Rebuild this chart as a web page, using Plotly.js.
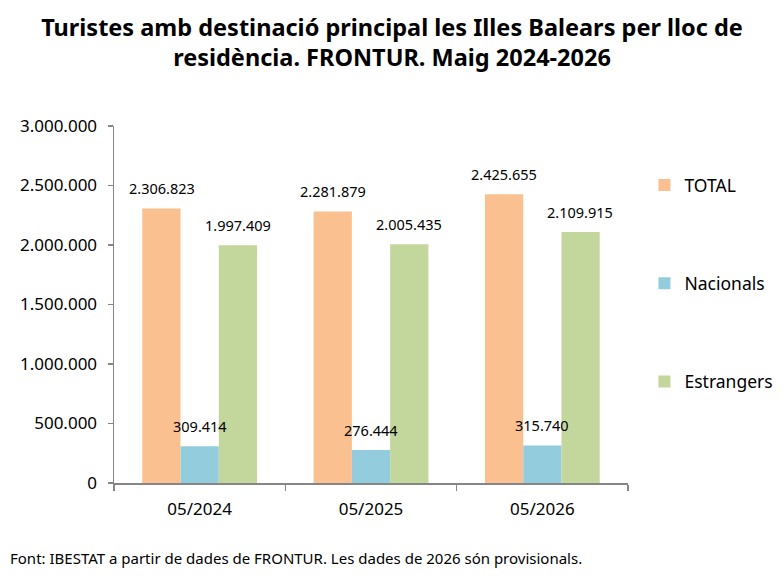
<!DOCTYPE html>
<html>
<head>
<meta charset="utf-8">
<script src="https://cdn.plot.ly/plotly-3.0.1.min.js"></script>
<style>
  html, body { margin: 0; padding: 0; background: #fff; }
  #chart { width: 784px; height: 588px; }
</style>
</head>
<body>
<div id="chart"></div>
<script>
// Tourists to the Balearic Islands by place of residence, May of each year
const categories = ['05/2024', '05/2025', '05/2026'];
const seriesNames = ['TOTAL', 'Nacionals', 'Estrangers'];
const totalValues = [2306823, 2281879, 2425655];
const nacionalsValues = [309414, 276444, 315740];
const estrangersValues = [1997409, 2005435, 2109915];
const yTicks = [0, 500000, 1000000, 1500000, 2000000, 2500000, 3000000];

const colors = ['#FAC090', '#93CDDD', '#C3D69B'];
const seriesValues = [totalValues, nacionalsValues, estrangersValues];
const FONT = 'Noto Sans, Open Sans, sans-serif';

const traces = seriesValues.map((vals, i) => ({
  type: 'bar',
  name: seriesNames[i],
  x: categories,
  y: vals,
  marker: { color: colors[i] },
  legendgroup: 'g' + i,
  hoverinfo: 'skip'
}));

// value labels above each bar, formatted with '.' thousands separators
function fmt(v) {
  return v.toString().replace(/\B(?=(\d{3})+(?!\d))/g, '.');
}
const barShift = 38;
const annotations = [];
seriesValues.forEach((vals, i) => {
  vals.forEach((v, j) => {
    annotations.push({
      x: categories[j], y: v, xref: 'x', yref: 'y',
      xshift: (i - 1) * barShift, yshift: 20,
      yanchor: 'middle', xanchor: 'center',
      text: fmt(v), showarrow: false,
      font: { family: FONT, size: 14.5, color: '#000' }
    });
  });
});
annotations.push({
  xref: 'paper', yref: 'paper', x: -0.206, y: -0.21,
  xanchor: 'left', yanchor: 'middle', showarrow: false,
  text: 'Font: IBESTAT a partir de dades de FRONTUR. Les dades de 2026 són provisionals.',
  font: { family: FONT, size: 15, color: '#000' }
});

const layout = {
  width: 784, height: 588,
  paper_bgcolor: '#fff', plot_bgcolor: '#fff',
  separators: ',.',
  margin: { l: 114, r: 156, t: 126, b: 105, autoexpand: false },
  font: { family: FONT, color: '#000' },
  title: {
    text: '<b>Turistes amb destinació principal les Illes Balears per lloc de<br>residència. FRONTUR. Maig 2024-2026</b>',
    font: { family: FONT, size: 23.5, color: '#000' },
    x: 0.5, xanchor: 'center', xref: 'container',
    y: 0.939, yanchor: 'middle', yref: 'container'
  },
  barmode: 'group',
  bargap: 0.33,
  bargroupgap: 0,
  xaxis: {
    type: 'category',
    showline: true, linecolor: '#868686', linewidth: 1.5,
    ticks: 'outside', tickson: 'boundaries', ticklen: 6, tickcolor: '#868686', tickwidth: 1.5,
    ticklabelstandoff: 10,
    tickfont: { family: FONT, size: 17, color: '#000' },
    showgrid: false, zeroline: false
  },
  yaxis: {
    range: [0, 3000000],
    tickvals: yTicks,
    tickformat: ',d',
    showline: true, linecolor: '#868686', linewidth: 1.5,
    ticks: 'outside', ticklen: 5, tickcolor: '#868686', tickwidth: 1.5,
    ticklabelstandoff: 7,
    tickfont: { family: FONT, size: 17, color: '#000' },
    showgrid: false, zeroline: false
  },
  legend: {
    x: 1.032, xanchor: 'left', y: 0.885, yanchor: 'top',
    traceorder: 'grouped', tracegroupgap: 72.5, itemwidth: 30,
    font: { family: FONT, size: 17.5, color: '#000' },
    bgcolor: 'rgba(0,0,0,0)'
  },
  annotations: annotations,
  showlegend: true
};

Plotly.newPlot('chart', traces, layout, { displayModeBar: false, staticPlot: true });
</script>
</body>
</html>
